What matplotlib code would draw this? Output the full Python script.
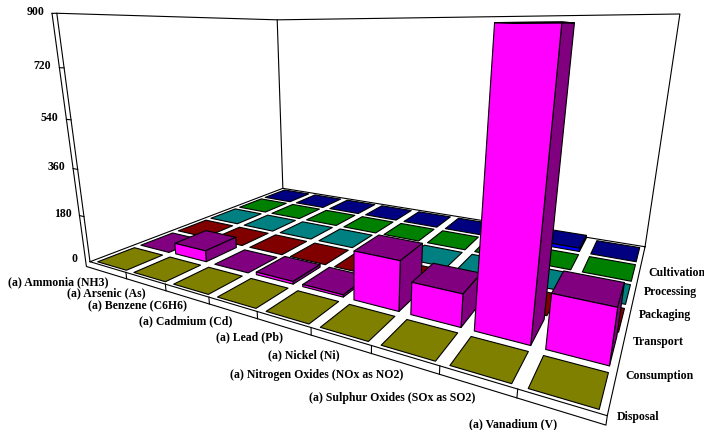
#!/usr/bin/env python3
# -*- coding: utf-8 -*-
"""Emissions per life-cycle stage, drawn as a 3D bar chart."""

import numpy as np
import matplotlib
matplotlib.use("Agg")
import matplotlib.pyplot as plt
from mpl_toolkits.mplot3d import proj3d
from mpl_toolkits.mplot3d.art3d import Poly3DCollection

pollutants = ["(a) Ammonia (NH3)", "(a) Arsenic (As)", "(a) Benzene (C6H6)",
              "(a) Cadmium (Cd)", "(a) Lead (Pb)", "(a) Nickel (Ni)",
              "(a) Nitrogen Oxides (NOx as NO2)",
              "(a) Sulphur Oxides (SOx as SO2)", "(a) Vanadium (V)"]
# front row first
stages = ["Disposal", "Consumption", "Transport", "Packaging", "Processing",
          "Cultivation"]
disposal = [0, 0, 0, 0, 0, 0, 0, 0, 0]
consumption = [0, 44, 0, 10, 8, 170, 108, 860, 168]
transport = [0, 0, 0, 0, 0, 0, 0, 0, 0]
packaging = [0, 0, 0, 0, 0, 0, 0, 0, 0]
processing = [0, 0, 0, 0, 0, 0, 0, 0, 0]
cultivation = [0, 0, 0, 0, 0, 0, 0, 14, 0]
z_ticks = [0, 180, 360, 540, 720, 900]

series = [disposal, consumption, transport, packaging, processing, cultivation]
dark = ["#808000", "#800080", "#800000", "#008080", "#008000", "#000080"]
bright = ["#ffff00", "#ff00ff", "#ff0000", "#00ffff", "#00ff00", "#0000ff"]

# Camera of the chart: world (x, y, z) -> image pixel
CAMERA = [((0, 0, 0), (90, 262)), ((9, 0, 0), (608, 415)),
          ((9, 6, 0), (645, 247)), ((0, 6, 0), (283, 188)),
          ((0, 0, 900), (57, 13)), ((0, 6, 900), (277, 20)),
          ((9, 6, 900), (680, 14)), ((4, 0, 0), (257, 312)),
          ((8, 0, 0), (517, 389))]
WIDTH, HEIGHT = 704, 430
BAR_X = 0.10
BAR_Y = 0.08
STRIP_Z = 25
STRIP_X = 0.13
LABEL_Z = 62


def camera_matrix(anchors: list) -> np.ndarray:
    """Solve the projection through the anchors, as a 4x4 mplot3d matrix."""
    rows = []
    for (x, y, z), (u, v) in anchors:
        pnt = [x, y, z / 100, 1]
        u, v = u / 100, (HEIGHT - v) / 100
        rows.append(pnt + [0, 0, 0, 0] + [-u * c for c in pnt])
        rows.append([0, 0, 0, 0] + pnt + [-v * c for c in pnt])
    vec = np.linalg.svd(np.array(rows))[2][-1].reshape(3, 4)
    vec = np.diag([100, 100, 1]) @ vec @ np.diag([1, 1, 0.01, 1])
    # last row is kept as depth (1 / w) so that the matrix stays invertible
    return np.vstack((vec[0], vec[1], [0, 0, 0, 1], vec[2]))


def draw_bar(ax, i: int, j: int, value: float, order: int) -> None:
    """Draw one bar: the top face, plus the front and right ones if raised."""
    x0, x1 = i + BAR_X, i + 1 - BAR_X
    y0, y1 = j + BAR_Y, j + 1 - BAR_Y
    top = [(x0, y0, value), (x1, y0, value), (x1, y1, value), (x0, y1, value)]
    verts, colors = [top], [dark[j]]
    if value > 0:
        front = [(x0, y0, 0), (x1, y0, 0), (x1, y0, value), (x0, y0, value)]
        right = [(x1, y0, 0), (x1, y1, 0), (x1, y1, value), (x1, y0, value)]
        verts = [front, right, top]
        colors = [bright[j], dark[j], dark[j]]
    col = Poly3DCollection(verts, facecolors=colors, edgecolors="black",
                           linewidths=0.8, zorder=order)
    ax.add_collection3d(col, autolim=False)


def draw_frame(ax) -> None:
    """Draw the back walls outline and the strips along z and x axes."""
    nx, ny = len(pollutants), len(stages)
    zmax = z_ticks[-1]
    lines = [[(0, 0, 0), (0, 0, zmax), (0, ny, zmax), (nx, ny, zmax),
              (nx, ny, 0), (0, ny, 0), (0, 0, 0), (nx, 0, 0), (nx, ny, 0)],
             [(0, ny, 0), (0, ny, zmax)],
             [(-STRIP_X, 0, zmax), (-STRIP_X, 0, -STRIP_Z), (nx, 0, -STRIP_Z),
              (nx, 0, 0)],
             [(-STRIP_X, 0, zmax), (0, 0, zmax)]]
    for i in range(1, nx):
        lines.append([(i, 0, 0), (i, 0, -STRIP_Z)])
    for tick in z_ticks[1:-1]:
        lines.append([(-STRIP_X, 0, tick), (0, 0, tick)])
    for line in lines:
        xs, ys, zs = zip(*line)
        ax.plot(xs, ys, zs, color="black", lw=0.8, zorder=1)


def put_label(ax, pos: tuple, text: str, ha: str, dx: float, dy: float) -> None:
    """Write a label next to a world position, shifted by some pixels."""
    u, v, _ = proj3d.proj_transform(*pos, ax.get_proj())
    ax.text2D(u + dx, v + dy, text, ha=ha, va="center", transform=ax.transData,
              family="Liberation Serif", weight="bold", size=8.5, zorder=1000)


fig = plt.figure(figsize=(WIDTH / 100, HEIGHT / 100), dpi=100)
# mplot3d keeps a square box: it is overhanging above and below the figure
pad = (WIDTH - HEIGHT) / 2
ax = fig.add_axes([0, -pad / HEIGHT, 1, WIDTH / HEIGHT], projection="3d",
                  computed_zorder=False)
ax.set_axis_off()
ax.set_xticks([])
ax.set_yticks([])
ax.set_zticks([])
# ortho only turns off the line clipping, the matrix itself is fixed below
ax.set_proj_type("ortho")
matrix = camera_matrix(CAMERA)
ax.get_proj = lambda: matrix

draw_frame(ax)

order = 2
for j in reversed(range(len(stages))):
    for i in range(len(pollutants)):
        draw_bar(ax, i, j, series[j][i], order)
        order += 1

ax.viewLim.intervalx = (0, WIDTH)
ax.viewLim.intervaly = (-pad, HEIGHT + pad)

for tick in z_ticks:
    put_label(ax, (-STRIP_X, 0, tick), str(tick), "right", -8, 1.5)
for i, label in enumerate(pollutants):
    put_label(ax, (i + 0.5, 0, -LABEL_Z), label, "right", -1, 0.5)
for j, label in enumerate(stages):
    put_label(ax, (len(pollutants), j + 0.5, -LABEL_Z), label, "left", 7, -3)

fig.savefig("out.png", dpi=100)
